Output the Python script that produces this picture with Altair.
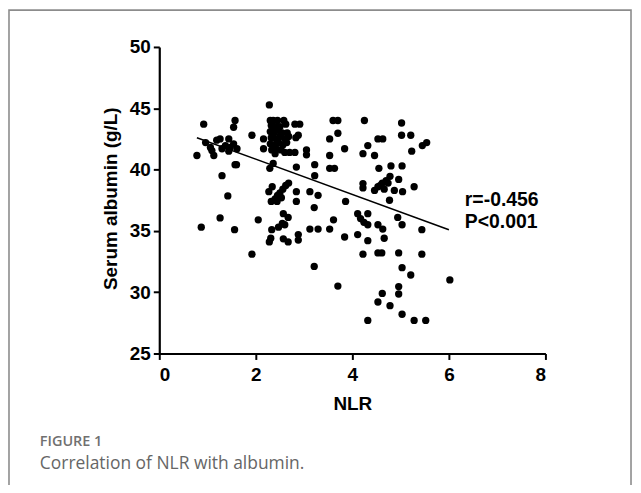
import altair as alt
import pandas as pd

# ---- data ----
nlr = [
    0.78, 0.92, 0.87, 0.96, 1.06, 1.09, 1.13, 1.19, 1.26, 1.30, 1.37, 1.44, 1.47, 1.44, 1.54, 1.61,
    1.57, 1.54, 1.57, 1.60, 1.30, 1.42, 1.26, 1.56, 1.92, 1.92, 2.05,
    2.16, 2.16, 2.28,
    2.30, 2.36, 2.45, 2.58, 2.32, 2.40, 2.50, 2.62, 2.30, 2.38, 2.46, 2.55, 2.65,
    2.32, 2.42, 2.50, 2.60, 2.68, 2.30, 2.38, 2.47, 2.56, 2.64, 2.33, 2.42, 2.52, 2.60, 2.40, 2.70,
    2.81, 2.91, 2.83, 2.88, 2.81, 3.05, 3.05, 2.84, 2.36, 2.29, 3.22, 3.22,
    2.27, 2.34, 2.32, 2.40, 2.45, 2.50, 2.56, 2.62, 2.68, 2.44, 2.53,
    2.84, 2.84, 3.12, 3.29, 3.21,
    2.57, 2.67, 2.60, 2.47, 2.33, 2.55, 2.28, 2.31, 2.57, 2.67, 2.88, 2.88,
    3.12, 3.29, 3.21,
    3.60, 3.70, 3.70, 3.53, 3.84, 3.53, 3.53, 3.63, 3.86, 3.61, 3.53, 3.84, 3.70,
    4.25, 4.32, 4.22, 4.46, 4.22, 4.22, 4.11, 4.17, 4.24, 4.32, 4.32, 4.11, 4.32, 4.22, 4.32,
    4.53, 4.63, 4.55, 4.80, 5.03, 4.46, 4.53, 4.62, 4.70, 4.78, 4.66, 4.58, 4.74,
    4.96, 4.87, 5.04, 4.77, 4.94, 5.03, 4.53, 4.63, 4.66, 4.53, 4.61, 4.96, 5.03,
    4.96, 4.96, 4.62, 4.53, 4.78, 5.03,
    5.02, 5.02, 5.21, 5.23, 5.45, 5.54, 5.28, 5.44, 5.44, 5.21, 6.02, 5.28, 5.52,
]
albumin = [
    41.15, 43.7, 35.3, 42.2, 41.8, 41.55, 41.15, 42.4, 42.5, 41.7, 41.95, 42.5, 41.8, 41.5, 42.1, 41.7,
    44.0, 43.45, 40.4, 40.4, 39.5, 37.85, 36.06, 35.1, 42.8, 33.1, 35.9,
    42.5, 41.7, 45.27,
    44.0, 44.0, 44.0, 44.0, 43.6, 43.5, 43.5, 43.7, 43.1, 43.0, 43.2, 43.0, 43.0,
    42.6, 42.5, 42.7, 42.5, 42.7, 42.1, 42.0, 42.2, 42.0, 42.2, 41.6, 41.7, 41.6, 41.4, 41.3, 41.4,
    43.7, 43.7, 42.6, 42.8, 41.4, 41.6, 41.2, 40.2, 40.5, 40.1, 40.4, 39.5,
    38.2, 38.6, 37.4, 37.6, 37.9, 38.1, 38.4, 38.7, 38.9, 37.4, 37.7,
    38.2, 37.4, 38.2, 37.9, 36.9,
    36.4, 36.1, 35.5, 35.3, 35.1, 35.6, 34.1, 34.4, 34.35, 34.1, 34.7, 34.25,
    35.15, 35.15, 32.1,
    44.0, 44.0, 42.96, 42.5, 41.7, 41.15, 40.1, 40.1, 37.4, 35.9, 35.15, 34.5, 30.5,
    44.0, 41.96, 41.3, 41.15, 38.86, 38.5, 36.4, 36.0, 35.7, 35.5, 36.4, 34.7, 34.2, 33.1, 27.7,
    42.5, 42.5, 40.1, 40.3, 40.3, 38.3, 38.6, 38.9, 39.1, 39.45, 38.4, 38.7, 38.9,
    39.2, 38.3, 38.2, 37.5, 36.1, 35.5, 35.5, 35.15, 34.4, 33.2, 33.2, 33.2, 32.0,
    30.46, 29.85, 29.9, 29.2, 28.9, 28.2,
    43.8, 42.8, 42.8, 41.5, 41.96, 42.2, 38.6, 35.1, 33.1, 31.4, 31.0, 27.7, 27.7,
]
fit_nlr = [0.78, 6.0]
fit_albumin = [42.6, 35.1]
x_ticks = [0, 2, 4, 6, 8]
y_ticks = [25, 30, 35, 40, 45, 50]
stat_r = "r=-0.456"
stat_p = "P<0.001"
caption_head = "FIGURE 1"
caption_text = "Correlation of NLR with albumin."

# ---- layout ----
W, H = 388, 308
PL, PT, PR, PB = 152, 38, 88, 131
FONT = "Liberation Sans"

pts_df = pd.DataFrame({"nlr": nlr, "albumin": albumin})
fit_df = pd.DataFrame({"nlr": fit_nlr, "albumin": fit_albumin})
one = pd.DataFrame({"k": [0]})

x_enc = alt.X(
    "nlr:Q",
    scale=alt.Scale(domain=[0, 8], nice=False, zero=False),
    axis=alt.Axis(values=x_ticks, title="NLR", titleY=56, titleBaseline="alphabetic",
                  labelPadding=6),
)
y_enc = alt.Y(
    "albumin:Q",
    scale=alt.Scale(domain=[25, 50], nice=False, zero=False),
    axis=alt.Axis(values=y_ticks, title="Serum albumin (g/L)", titleX=-43, titleY=152,
                  titleBaseline="alphabetic", titleAngle=270, labelPadding=3),
)

points = alt.Chart(pts_df).mark_circle(size=54, color="black", opacity=1).encode(x=x_enc, y=y_enc)
fit = alt.Chart(fit_df).mark_line(color="black", strokeWidth=1.6).encode(x="nlr:Q", y="albumin:Q")

def txt(s, x, y, size, color, font, weight, align="left"):
    return alt.Chart(one).mark_text(
        text=s, align=align, baseline="alphabetic", fontSize=size, color=color,
        font=font, fontWeight=weight,
    ).encode(x=alt.value(x), y=alt.value(y))

t_r = txt(stat_r, 307, 160, 19.5, "black", FONT, "bold")
t_p = txt(stat_p, 307, 182, 19.5, "black", FONT, "bold")
cap1 = txt(caption_head, -120, 401, 14.5, "#707070", "Open Sans", 600)
cap2 = txt(caption_text, -120, 424, 17.5, "#666666", "Open Sans", "normal")

border = alt.Chart(one).mark_rect(fillOpacity=0, stroke="#8c8c8c", strokeWidth=1.6).encode(
    x=alt.value(-151), x2=alt.value(474), y=alt.value(-37), y2=alt.value(470)
)

chart = alt.layer(border, points, fit, t_r, t_p, cap1, cap2).properties(
    width=W, height=H,
    padding={"left": PL, "top": PT, "right": PR, "bottom": PB},
    autosize=alt.AutoSizeParams(type="none"),
    background="white",
).configure_view(stroke="transparent").configure_axis(
    grid=False, domainColor="black", domainWidth=2.2, tickColor="black", tickWidth=2,
    tickSize=6, labelFont=FONT, labelFontSize=19, labelFontWeight="bold", labelColor="black",
    titleFont=FONT, titleFontSize=19, titleFontWeight="bold", titleColor="black",
)

chart.save("out.html", embed_options={"renderer": "svg", "actions": False})
